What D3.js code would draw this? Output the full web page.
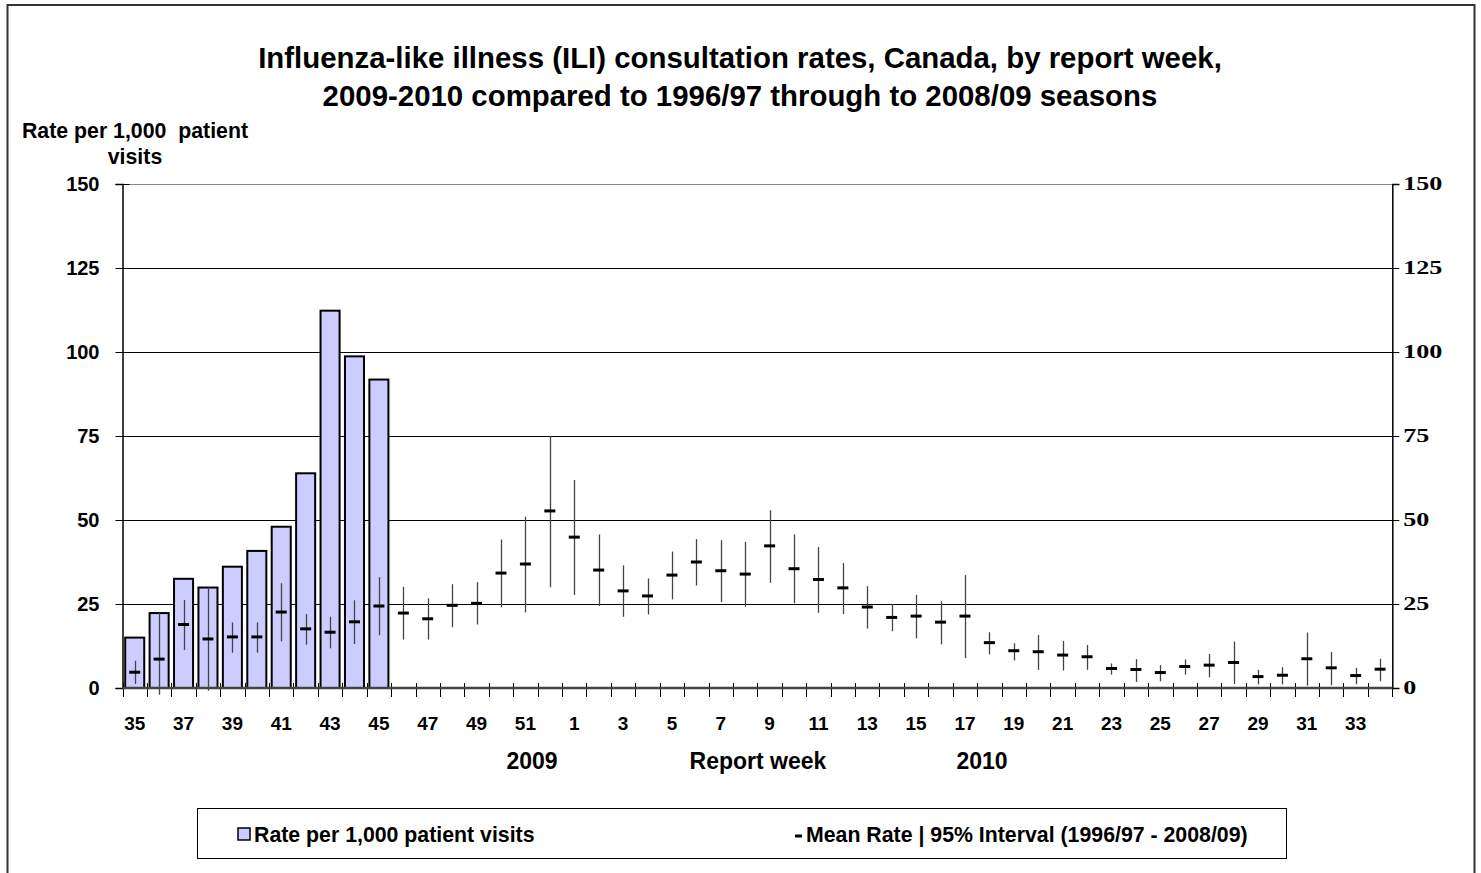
<!DOCTYPE html>
<html>
<head>
<meta charset="utf-8">
<script src="https://cdn.jsdelivr.net/npm/d3@7"></script>
<style>
  body { margin: 0; background: #fff; }
  svg text { font-family: "Liberation Sans", Arial, sans-serif; font-weight: bold; fill: #000; }
</style>
</head>
<body>
<div id="chart"></div>
<script>
const weeks = [35,36,37,38,39,40,41,42,43,44,45,46,47,48,49,50,51,52,
  1,2,3,4,5,6,7,8,9,10,11,12,13,14,15,16,17,18,19,20,21,22,23,24,25,26,27,28,29,30,31,32,33,34];
const rates = [15.0,22.3,32.5,29.9,36.1,40.8,48.0,63.9,112.3,98.7,91.8];
const meanRate = [4.7,8.6,18.9,14.6,15.2,15.2,22.6,17.6,16.6,19.7,24.4,22.3,20.6,24.6,25.2,34.2,36.9,52.7,
  44.9,35.1,28.9,27.4,33.6,37.5,34.9,33.9,42.3,35.5,32.3,29.8,24.1,21.0,21.4,19.6,21.4,13.5,11.1,10.8,9.8,9.3,
  5.8,5.5,4.6,6.4,6.8,7.6,3.4,3.8,8.7,6.0,3.7,5.6];
const lowRate = [1.2,-2.0,11.3,-0.8,10.5,10.5,13.9,12.9,11.8,13.1,15.7,14.4,14.4,18.1,18.9,24.0,22.5,30.0,
  27.7,24.4,21.2,21.9,26.4,30.5,25.6,24.2,31.3,25.2,22.4,22.0,17.7,16.9,14.8,13.0,8.9,10.0,8.2,5.4,5.2,5.4,
  4.0,1.8,2.0,4.0,3.2,1.2,1.1,1.1,0.7,0.8,1.1,2.0];
const highRate = [8.1,22.3,26.2,29.9,19.5,19.5,31.2,22.0,21.2,26.1,33.0,30.1,26.7,30.9,31.5,44.2,51.0,75.0,
  61.9,45.7,36.5,32.6,40.6,44.3,44.0,43.5,52.9,45.7,42.0,37.2,30.3,25.0,27.7,25.8,33.6,16.6,13.3,15.8,14.0,12.8,
  7.3,8.6,6.8,8.5,10.1,13.8,5.4,6.2,16.5,10.7,6.0,8.7];
const yTicks = [0,25,50,75,100,125,150];

const W = 1481, H = 873;
const plot = {left: 122.5, right: 1392.3, top: 184, bottom: 688};

const svg = d3.select("#chart").append("svg")
  .attr("width", W).attr("height", H);

// outer frame
svg.append("path")
  .attr("d", "M7.5," + H + "V5H1474.5V" + H)
  .attr("fill", "none").attr("stroke", "#333").attr("stroke-width", 2);

var x = d3.scaleBand().domain(weeks.map(String)).range([plot.left, plot.right]);
var y = d3.scaleLinear().domain([0, 150]).range([plot.bottom, plot.top]);
var bw = x.bandwidth();

// title
svg.append("text").attr("x", 740).attr("y", 68).attr("text-anchor", "middle")
  .style("font-size", "29.4px")
  .text("Influenza-like illness (ILI) consultation rates, Canada, by report week,");
svg.append("text").attr("x", 740).attr("y", 106).attr("text-anchor", "middle")
  .style("font-size", "29.4px")
  .text("2009-2010 compared to 1996/97 through to 2008/09 seasons");

svg.append("text").attr("x", 135).attr("y", 138).attr("text-anchor", "middle")
  .style("font-size", "21.3px").style("white-space", "pre")
  .text("Rate per 1,000  patient");
svg.append("text").attr("x", 135).attr("y", 164).attr("text-anchor", "middle")
  .style("font-size", "21.3px").text("visits");

// gridlines
svg.append("g").selectAll("line")
  .data(yTicks.filter(d => d > 0))
  .enter().append("line")
  .attr("x1", plot.left).attr("x2", plot.right)
  .attr("y1", d => Math.round(y(d)) + 0.5).attr("y2", d => Math.round(y(d)) + 0.5)
  .attr("stroke", d => d == 150 ? "#888" : "#000").attr("stroke-width", 1);

// left axis
var yl = svg.append("g").attr("transform", "translate(" + plot.left + ",0)")
  .call(d3.axisLeft(y).tickValues(yTicks).tickSize(7).tickPadding(16));
yl.select(".domain").attr("stroke", "#000").attr("stroke-width", 1.5);
yl.selectAll(".tick line").attr("x2", 7).attr("x1", -7).attr("stroke", "#000");
yl.selectAll(".tick text").style("font-size", "20px")
  .style("font-family", "'Liberation Sans', Arial, sans-serif");

// right axis (serif labels, drawn wide like the original)
var yr = svg.append("g").attr("transform", "translate(" + plot.right + ",0)")
  .call(d3.axisRight(y).tickValues(yTicks).tickSize(7));
yr.select(".domain").attr("stroke", "#000").attr("stroke-width", 1.5);
yr.selectAll(".tick line").attr("stroke", "#000");
yr.selectAll(".tick text").style("font-size", "18px")
  .style("font-family", "'Liberation Serif', 'Times New Roman', serif")
  .attr("x", 7.5).attr("transform", "scale(1.45,1)");

// bars
svg.append("g").selectAll("rect")
  .data(rates)
  .enter().append("rect")
  .attr("x", (d, i) => x(String(weeks[i])) + bw * 0.11)
  .attr("width", bw * 0.78)
  .attr("y", d => y(d))
  .attr("height", d => y(0) - y(d))
  .attr("fill", "#ccccff").attr("stroke", "#000").attr("stroke-width", 2);

// 95% intervals
svg.append("g").selectAll("line")
  .data(weeks)
  .enter().append("line")
  .attr("x1", d => Math.round(x(String(d)) + bw / 2) + 0.5)
  .attr("x2", d => Math.round(x(String(d)) + bw / 2) + 0.5)
  .attr("y1", (d, i) => y(lowRate[i]))
  .attr("y2", (d, i) => y(highRate[i]))
  .attr("stroke", "#444").attr("stroke-width", 1.3);

// mean markers
svg.append("g").selectAll("line")
  .data(weeks)
  .enter().append("line")
  .attr("x1", d => x(String(d)) + bw / 2 - 5.5)
  .attr("x2", d => x(String(d)) + bw / 2 + 5.5)
  .attr("y1", (d, i) => y(meanRate[i]))
  .attr("y2", (d, i) => y(meanRate[i]))
  .attr("stroke", "#000").attr("stroke-width", 3);

// x axis with ticks at category boundaries
var bounds = weeks.map(w => x(String(w))).concat([plot.right]);
svg.append("g").selectAll("line")
  .data(bounds)
  .enter().append("line")
  .attr("x1", d => Math.round(d) + 0.5).attr("x2", d => Math.round(d) + 0.5)
  .attr("y1", plot.bottom - 5).attr("y2", plot.bottom + 9)
  .attr("stroke", "#000").attr("stroke-width", 1);
svg.append("line")
  .attr("x1", plot.left).attr("x2", plot.right).attr("y1", plot.bottom).attr("y2", plot.bottom)
  .attr("stroke", "#444").attr("stroke-width", 2.5);

svg.append("g").selectAll("text")
  .data(weeks.filter((d, i) => i % 2 == 0))
  .enter().append("text")
  .attr("x", d => x(String(d)) + bw / 2)
  .attr("y", 730)
  .attr("text-anchor", "middle")
  .style("font-size", "19px")
  .text(d => d);

svg.append("text").attr("x", 532).attr("y", 769).attr("text-anchor", "middle")
  .style("font-size", "23px").text("2009");
svg.append("text").attr("x", 758).attr("y", 769).attr("text-anchor", "middle")
  .style("font-size", "23px").text("Report week");
svg.append("text").attr("x", 982).attr("y", 769).attr("text-anchor", "middle")
  .style("font-size", "23px").text("2010");

// legend
var lg = svg.append("g");
lg.append("rect").attr("x", 197.5).attr("y", 808.5).attr("width", 1089).attr("height", 50)
  .attr("fill", "#fff").attr("stroke", "#000").attr("stroke-width", 1);
lg.append("rect").attr("x", 238).attr("y", 828).attr("width", 12).attr("height", 12)
  .attr("fill", "#ccccff").attr("stroke", "#000").attr("stroke-width", 1.5);
lg.append("text").attr("x", 254).attr("y", 842).style("font-size", "21.3px")
  .text("Rate per 1,000 patient visits");
lg.append("line").attr("x1", 795).attr("x2", 802).attr("y1", 836).attr("y2", 836)
  .attr("stroke", "#000").attr("stroke-width", 3);
lg.append("text").attr("x", 806).attr("y", 842).style("font-size", "21.3px")
  .text("Mean Rate | 95% Interval (1996/97 - 2008/09)");
</script>
</body>
</html>
